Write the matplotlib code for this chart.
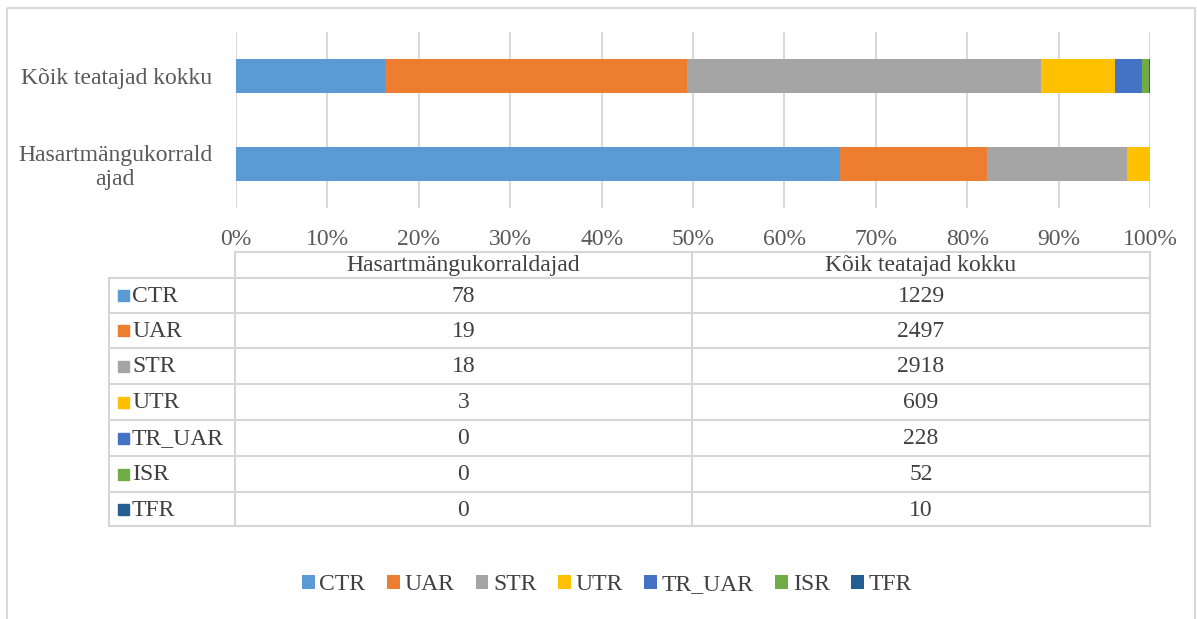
import matplotlib
matplotlib.use("Agg")
import matplotlib.pyplot as plt
from matplotlib.patches import Rectangle

plt.rcParams['font.family'] = ['Liberation Serif', 'DejaVu Serif']

categories = ["Hasartmängukorrald\najad", "Kõik teatajad kokku"]
column_headers = ["Hasartmängukorraldajad", "Kõik teatajad kokku"]
series_names = ["CTR", "UAR", "STR", "UTR", "TR_UAR", "ISR", "TFR"]
hasart_values = [78, 19, 18, 3, 0, 0, 0]
koik_values = [1229, 2497, 2918, 609, 228, 52, 10]
colors = ["#5B9BD5", "#ED7D31", "#A5A5A5", "#FFC000", "#4472C4", "#70AD47", "#255E91"]
xtick_vals = [0, 10, 20, 30, 40, 50, 60, 70, 80, 90, 100]
xtick_labels = [f"{v}%" for v in xtick_vals]

W, H = 1197, 619
fig = plt.figure(figsize=(W / 100, H / 100), dpi=100)
fig.patch.set_facecolor("white")

def fx(px):
    return px / W

def fy(py):
    return 1 - py / H

grid_c = "#D9D9D9"
text_c = "#595959"
tab_text_c = "#404040"

# Main bar axes
ax = fig.add_axes([fx(236), fy(208), fx(1150) - fx(236), fy(32) - fy(208)])
tot_h = sum(hasart_values)
tot_k = sum(koik_values)
left = [0.0, 0.0]
handles = []
for i, name in enumerate(series_names):
    vals = [hasart_values[i] / tot_h * 100, koik_values[i] / tot_k * 100]
    b = ax.barh([0, 1], vals, left=left, height=0.386, color=colors[i], label=name, zorder=3)
    handles.append(b)
    left = [left[0] + vals[0], left[1] + vals[1]]

ax.set_xlim(0, 100)
ax.set_ylim(-0.5, 1.5)
ax.set_xticks(xtick_vals)
ax.set_xticklabels(xtick_labels, fontsize=17, color=text_c)
ax.set_yticks([0, 1])
ylabels = ax.set_yticklabels(categories, fontsize=17, color=text_c, linespacing=1.15)
for t in ylabels:
    t.set_multialignment("center")
ax.tick_params(axis="x", length=0, pad=15)
ax.tick_params(axis="y", length=0, pad=17)
for s in ax.spines.values():
    s.set_visible(False)
ax.grid(axis="x", color=grid_c, linewidth=1.5, zorder=0)
ax.set_axisbelow(True)

# Overlay axes in pixel coordinates for table and border
ov = fig.add_axes([0, 0, 1, 1])
ov.set_xlim(0, W)
ov.set_ylim(H, 0)
ov.axis("off")

ov.add_patch(Rectangle((7, 8), 1188, 620, fill=False, edgecolor=grid_c, linewidth=1.5))

x0, x1, x2, x3 = 109, 235, 692, 1150
row_lines = [278, 313, 348, 384, 420, 456, 492, 526]
head_top = 252
lc = "#D6D6D6"
lw = 1.5
ov.plot([x1, x3], [head_top, head_top], color=lc, lw=lw)
for yl in row_lines:
    ov.plot([x0, x3], [yl, yl], color=lc, lw=lw)
ov.plot([x0, x0], [row_lines[0], row_lines[-1]], color=lc, lw=lw)
for xv in (x1, x2, x3):
    ov.plot([xv, xv], [head_top, row_lines[-1]], color=lc, lw=lw)

fs = 17
ov.text((x1 + x2) / 2, (head_top + row_lines[0]) / 2 + 1, column_headers[0], ha="center", va="center",
        fontsize=fs, color=tab_text_c)
ov.text((x2 + x3) / 2, (head_top + row_lines[0]) / 2 + 1, column_headers[1], ha="center", va="center",
        fontsize=fs, color=tab_text_c)
for i, name in enumerate(series_names):
    yc = (row_lines[i] + row_lines[i + 1]) / 2
    ov.add_patch(Rectangle((118, yc - 5.5), 11, 11, color=colors[i]))
    ov.text(132, yc + 1, name, ha="left", va="center", fontsize=fs, color=tab_text_c)
    ov.text((x1 + x2) / 2, yc + 1, str(hasart_values[i]), ha="center", va="center", fontsize=fs, color=tab_text_c)
    ov.text((x2 + x3) / 2, yc + 1, str(koik_values[i]), ha="center", va="center", fontsize=fs, color=tab_text_c)

leg = fig.legend(handles=handles, labels=series_names, loc="center", bbox_to_anchor=(fx(607), fy(585)),
                 ncol=7, frameon=False, fontsize=fs, handlelength=0.55, handleheight=0.55,
                 handletextpad=0.2, columnspacing=0.9, labelcolor=tab_text_c)

fig.savefig("out.png", dpi=100, facecolor="white")
